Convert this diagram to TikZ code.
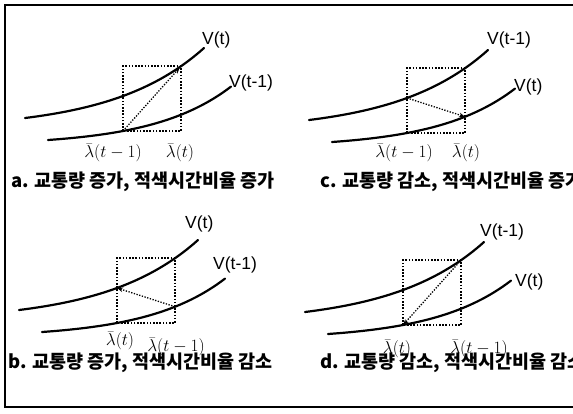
\documentclass[tikz,border=0pt]{standalone}
\usepackage{fontspec}
\usepackage{amsmath}
\newfontfamily\krfont{Noto Sans CJK KR}
\newfontfamily\vfont{Liberation Sans}
\usetikzlibrary{arrows.meta}

\tikzset{
  vcurve/.style={line width=2.2pt, line cap=round},
  dotbox/.style={line width=1.8pt, dash pattern=on 1.6pt off 1.6pt},
  shiftline/.style={line width=1.3pt, dash pattern=on 1.3pt off 1.5pt,
    -{Stealth[length=6pt,width=4.5pt]}},
  frameline/.style={line width=1.2pt},
  vlabel/.style={font=\vfont\fontsize{17.5}{19}\selectfont, anchor=west, inner sep=0pt},
  lamlabel/.style={font=\fontsize{18}{20}\selectfont, inner sep=0pt},
  paneltitle/.style={font=\krfont\bfseries\fontsize{18.5}{20}\selectfont, anchor=west, inner sep=0pt}
}

% two curves and the box of one panel
\newcommand{\vpanel}[1]{%
  \coordinate (#1-bl) at (123,131);
  \coordinate (#1-tr) at (181,66.2);
  \coordinate (#1-ul) at (123,96);
  \coordinate (#1-lr) at (181,114.7);
  \draw[vcurve] plot[domain=25:204, samples=50] (\x,{129.35-11.35*exp(0.011*(\x-25))});
  \draw[vcurve] plot[domain=48:231, samples=50] (\x,{145.45-5.45*exp(0.013*(\x-48))});
  \draw[dotbox] (#1-bl) rectangle (#1-tr);
}

\begin{document}
\begin{tikzpicture}[x=1pt, y=-1pt]
  \useasboundingbox (0,0) rectangle (573,413);
  \clip (0,0) rectangle (573,413);
  \draw[frameline] (573,5) -- (5,5) -- (5,407) -- (573,407);

  % a
  \begin{scope}
    \vpanel{a}
    \node[vlabel] (a-up) at (202,40) {V(t)};
    \node[vlabel] (a-lo) at (229,83) {V(t-1)};
    \node[lamlabel] (a-lam0) at (113,153) {$\bar{\lambda}(t-1)$};
    \node[lamlabel] (a-lam1) at (180,153) {$\bar{\lambda}(t)$};
    \node[paneltitle] (a-cap) at (11,182) {a. 교통량 증가, 적색시간비율 증가};
    \draw[shiftline, shorten >=2pt] (a-bl) -- (a-tr);
  \end{scope}

  % c
  \begin{scope}[shift={(284,2)}]
    \vpanel{c}
    \node[vlabel] (c-up) at (203,38) {V(t-1)};
    \node[vlabel] (c-lo) at (230,85) {V(t)};
    \node[lamlabel] (c-lam0) at (120,151) {$\bar{\lambda}(t-1)$};
    \node[lamlabel] (c-lam1) at (182,151) {$\bar{\lambda}(t)$};
    \node[paneltitle] (c-cap) at (36,180) {c. 교통량 감소, 적색시간비율 증가};
    \draw[shiftline] (c-ul) -- (c-lr);
  \end{scope}

  % b
  \begin{scope}[shift={(-6,192)}]
    \vpanel{b}
    \node[vlabel] (b-up) at (191,32) {V(t)};
    \node[vlabel] (b-lo) at (219,73) {V(t-1)};
    \node[lamlabel] (b-lam0) at (126,149) {$\bar{\lambda}(t)$};
    \node[lamlabel] (b-lam1) at (182,155) {$\bar{\lambda}(t-1)$};
    \node[paneltitle] (b-cap) at (14,171) {b. 교통량 증가, 적색시간비율 감소};
    \draw[shiftline] (b-lr) -- (b-ul);
  \end{scope}

  % d
  \begin{scope}[shift={(280,194)}]
    \vpanel{d}
    \node[vlabel] (d-up) at (200,38) {V(t-1)};
    \node[vlabel] (d-lo) at (235,88) {V(t)};
    \node[lamlabel] (d-lam0) at (117,155) {$\bar{\lambda}(t)$};
    \node[lamlabel] (d-lam1) at (199,155) {$\bar{\lambda}(t-1)$};
    \node[paneltitle] (d-cap) at (40,169) {d. 교통량 감소, 적색시간비율 감소};
    \draw[shiftline] (d-tr) -- (d-bl);
  \end{scope}
\end{tikzpicture}
\end{document}
